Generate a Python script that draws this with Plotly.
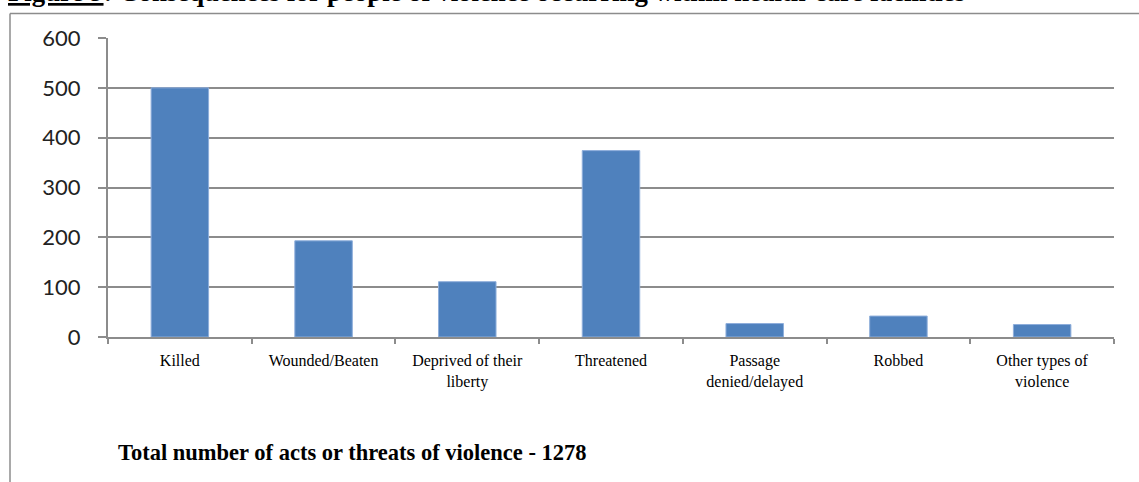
import plotly.graph_objects as go

categories = ["Killed", "Wounded/Beaten", "Deprived of their<br>liberty", "Threatened",
              "Passage<br>denied/delayed", "Robbed", "Other types of<br>violence"]
values = [500, 193, 111, 374, 27, 42, 25]
y_ticks = [0, 100, 200, 300, 400, 500, 600]
total_label = "Total number of acts or threats of violence - 1278"
title_text = "<u>Figure 9</u>: Consequences for people of violence occurring within health-care facilities"

W, H = 1139, 482
ML, MR, MT, MB = 108, 25, 38, 145
pw = W - ML - MR
ph = H - MT - MB

def px_x(p):
    return (p - ML) / pw

def px_y(p):
    return (H - MB - p) / ph

fig = go.Figure()
fig.add_trace(go.Bar(
    x=categories, y=values, width=0.4,
    marker=dict(color="#4F81BD", line=dict(color="#8EAEDB", width=1)),
))

fig.update_layout(
    width=W, height=H,
    margin=dict(l=ML, r=MR, t=MT, b=MB),
    paper_bgcolor="white", plot_bgcolor="white",
    showlegend=False,
    bargap=0.6,
    xaxis=dict(
        type="category",
        showline=True, linecolor="#8C8C8C", linewidth=2,
        ticks="outside", tickson="boundaries", ticklen=5, tickcolor="#8C8C8C", tickwidth=2,
        tickfont=dict(family="Liberation Serif", size=16, color="black"),
        showgrid=False,
        tickangle=0,
        ticklabelstandoff=8,
    ),
    yaxis=dict(
        range=[0, 600], tickvals=y_ticks,
        showline=True, linecolor="#8C8C8C", linewidth=2,
        ticks="outside", ticklen=8, tickcolor="#8C8C8C", tickwidth=2,
        showgrid=True, gridcolor="#8C8C8C", gridwidth=2,
        zeroline=False,
        tickfont=dict(family="Lato", size=22, color="#222222"),
        ticklabelstandoff=13,
    ),
)

# Outer chart frame (left and top edges visible)
fig.add_shape(type="line", xref="paper", yref="paper",
              x0=px_x(10), x1=px_x(1160), y0=px_y(13.5), y1=px_y(13.5),
              line=dict(color="#8C8C8C", width=1.5))
fig.add_shape(type="line", xref="paper", yref="paper",
              x0=px_x(10), x1=px_x(10), y0=px_y(13.5), y1=px_y(500),
              line=dict(color="#8C8C8C", width=1.5))

fig.add_annotation(text="<b>" + total_label + "</b>", xref="paper", yref="paper",
                   x=px_x(116), y=px_y(452), xanchor="left", yanchor="middle",
                   showarrow=False,
                   font=dict(family="Liberation Serif", size=22.5, color="black"))

fig.add_annotation(text="<b>" + title_text + "</b>", xref="paper", yref="paper",
                   x=px_x(6), y=px_y(9.5), xanchor="left", yanchor="bottom",
                   showarrow=False,
                   font=dict(family="Liberation Serif", size=26.8, color="black"))

fig.write_html("out.html", config={"displayModeBar": False},
               post_script="document.body.style.margin='0px';")
